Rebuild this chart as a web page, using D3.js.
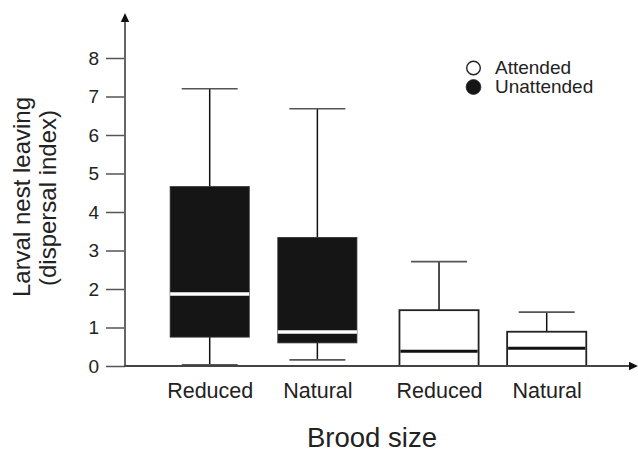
<!DOCTYPE html>
<html>
<head>
<meta charset="utf-8">
<script src="https://cdn.jsdelivr.net/npm/d3@7"></script>
<style>
  html, body { margin: 0; padding: 0; background: #fff; }
  svg { display: block; font-family: "Liberation Sans", Arial, Helvetica, sans-serif; }
</style>
</head>
<body>
<svg id="chart" width="638" height="453"></svg>
<script>
// ---- data ----
const categories   = ["Reduced", "Natural", "Reduced", "Natural"];
const attendance   = ["Unattended", "Unattended", "Attended", "Attended"];
const whiskerLow   = [0.03, 0.16, 0, 0];
const q1           = [0.75, 0.60, 0, 0];
const medians      = [1.87, 0.88, 0.38, 0.46];
const q3           = [4.66, 3.34, 1.45, 0.89];
const whiskerHigh  = [7.20, 6.68, 2.71, 1.40];
const yTicks       = [0, 1, 2, 3, 4, 5, 6, 7, 8];
const legendLabels = ["Attended", "Unattended"];
const groupOrder   = ["Unattended", "Attended"];

// ---- layout ----
const svg = d3.select("#chart");
const axisX0 = 125, axisYTop = 13, axisXRight = 638;
const groupGap = 0.13;
const pos = categories.map((c, i) => i + groupGap * groupOrder.indexOf(attendance[i]));

const y = d3.scaleLinear().domain([0, 8]).range([366, 58]);
const x = d3.scaleLinear().domain([0, 3 + groupGap]).range([209.7, 546.7]);
const boxW = x(0.735) - x(0);
const capW = x(0.52) - x(0);

const data = categories.map((c, i) => ({
  cat: c, att: attendance[i], p: pos[i],
  lo: whiskerLow[i], q1: q1[i], med: medians[i], q3: q3[i], hi: whiskerHigh[i]
}));

// whiskers
const g = svg.append("g");
data.forEach(d => {
  const cx = x(d.p);
  g.append("line").attr("x1", cx).attr("x2", cx).attr("y1", y(d.q3)).attr("y2", y(d.hi))
    .attr("stroke", "#111").attr("stroke-width", 1.5);
  g.append("line").attr("x1", cx - capW / 2).attr("x2", cx + capW / 2).attr("y1", y(d.hi)).attr("y2", y(d.hi))
    .attr("stroke", "#555").attr("stroke-width", 1.6);
  if (d.q1 > d.lo) {
    g.append("line").attr("x1", cx).attr("x2", cx).attr("y1", y(d.q1)).attr("y2", y(d.lo))
      .attr("stroke", "#111").attr("stroke-width", 1.5);
    g.append("line").attr("x1", cx - capW / 2).attr("x2", cx + capW / 2).attr("y1", y(d.lo)).attr("y2", y(d.lo))
      .attr("stroke", "#555").attr("stroke-width", 1.6);
  }
});

// boxes
data.forEach(d => {
  const cx = x(d.p);
  const filled = d.att === "Unattended";
  g.append("rect")
    .attr("x", cx - boxW / 2).attr("width", boxW)
    .attr("y", y(d.q3)).attr("height", y(d.q1) - y(d.q3))
    .attr("fill", filled ? "#151515" : "#fff")
    .attr("stroke", filled ? "#333" : "#222")
    .attr("stroke-width", filled ? 0.8 : 1.8);
  g.append("line")
    .attr("x1", cx - boxW / 2 + (filled ? 0 : 1)).attr("x2", cx + boxW / 2 - (filled ? 0 : 1))
    .attr("y1", y(d.med)).attr("y2", y(d.med))
    .attr("stroke", filled ? "#fff" : "#111")
    .attr("stroke-width", filled ? 3.5 : 3);
});

// y axis
const yAxis = d3.axisLeft(y).tickValues(yTicks).tickSize(19).tickPadding(7).tickFormat(d3.format("d"));
const ya = svg.append("g").attr("transform", `translate(${axisX0},0)`).call(yAxis);
ya.select(".domain").remove();
ya.selectAll(".tick line").attr("stroke", "#555").attr("stroke-width", 1.5);
ya.selectAll(".tick text").attr("fill", "#222").style("font-size", "19px")
  .style("font-family", "'Liberation Sans', Arial, sans-serif");

svg.append("line").attr("x1", axisX0).attr("x2", axisX0).attr("y1", y(0) + 1).attr("y2", axisYTop + 6)
  .attr("stroke", "#666").attr("stroke-width", 2);
svg.append("path")
  .attr("d", `M${axisX0},${axisYTop} L${axisX0 - 4.2},${axisYTop + 9} L${axisX0 + 4.2},${axisYTop + 9} Z`)
  .attr("fill", "#111");

// x axis
const xAxis = d3.axisBottom(x).tickValues(pos).tickSize(0).tickPadding(17)
  .tickFormat((d, i) => categories[i]);
const xa = svg.append("g").attr("transform", `translate(0,${y(0)})`).call(xAxis);
xa.select(".domain").remove();
xa.selectAll(".tick text").attr("fill", "#222").style("font-size", "21.5px")
  .style("font-family", "'Liberation Sans', Arial, sans-serif");

svg.append("line").attr("x1", axisX0 - 1).attr("x2", axisXRight - 6).attr("y1", y(0)).attr("y2", y(0))
  .attr("stroke", "#444").attr("stroke-width", 2);
svg.append("path")
  .attr("d", `M${axisXRight},${y(0)} L${axisXRight - 9},${y(0) - 4.2} L${axisXRight - 9},${y(0) + 4.2} Z`)
  .attr("fill", "#111");

// axis titles
svg.append("text").attr("x", 372).attr("y", 447).attr("text-anchor", "middle")
  .attr("fill", "#222").style("font-size", "27.5px").text("Brood size");

const yt = svg.append("g").attr("fill", "#222").style("font-size", "24px");
yt.append("text").attr("transform", "translate(30,197) rotate(-90)").attr("text-anchor", "middle")
  .text("Larval nest leaving");
yt.append("text").attr("transform", "translate(56,198) rotate(-90)").attr("text-anchor", "middle")
  .text("(dispersal index)");

// legend
const lg = svg.append("g").attr("transform", "translate(473.5,68)");
legendLabels.forEach((lab, i) => {
  const row = lg.append("g").attr("transform", `translate(0,${i * 19})`);
  const open = lab === "Attended";
  row.append("circle").attr("r", open ? 6.8 : 7.4)
    .attr("fill", open ? "#fff" : "#151515")
    .attr("stroke", "#222").attr("stroke-width", open ? 1.4 : 0.8);
  row.append("text").attr("x", 21.5).attr("y", 5.5).attr("fill", "#222")
    .style("font-size", "19px").text(lab);
});
</script>
</body>
</html>
